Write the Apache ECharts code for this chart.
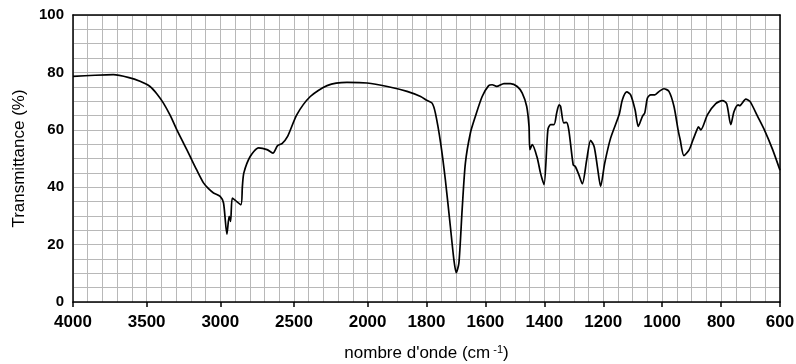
<!DOCTYPE html>
<html>
<head>
<meta charset="utf-8">
<script src="https://cdn.jsdelivr.net/npm/echarts@6/dist/echarts.min.js"></script>
<style>
html,body{margin:0;padding:0;background:#fff;}
#chart{width:796px;height:364px;}
</style>
</head>
<body>
<div id="chart"></div>
<script>
// Wavenumbers (cm-1) and transmittance (%)
var wavenumbers = [4000, 3850, 3726, 3620, 3545, 3477, 3430, 3386, 3340, 3295, 3250, 3205, 3160, 3114, 3080, 3046, 3001, 2978, 2955, 2940, 2930, 2919, 2900, 2860, 2850, 2840, 2797, 2740, 2683, 2643, 2611, 2581, 2543, 2480, 2389, 2275, 2140, 2003, 1933, 1866, 1820, 1798, 1781, 1770, 1752, 1736, 1719, 1707, 1699, 1690, 1679, 1668, 1651, 1634, 1611, 1589, 1577, 1562, 1537, 1515, 1492, 1475, 1460, 1452, 1449, 1441, 1424, 1413, 1401, 1388, 1379, 1367, 1358, 1350, 1345, 1334, 1325, 1317, 1302, 1295, 1283, 1271, 1256, 1243, 1231, 1220, 1209, 1195, 1175, 1146, 1135, 1120, 1107, 1092, 1081, 1067, 1059, 1050, 1039, 1025, 1010, 994, 977, 960, 946, 939, 926, 908, 895, 882, 877, 869, 846, 818, 795, 781, 767, 756, 742, 737, 716, 702, 676, 653, 625, 600];
var transmittance = [78.6, 79.0, 79.2, 78.2, 76.9, 75.1, 72.5, 69.3, 65.0, 60.0, 55.4, 50.7, 46.0, 41.5, 39.5, 38.0, 36.8, 34.5, 23.6, 29.8, 28.1, 36.2, 35.5, 33.9, 40.3, 45.0, 50.7, 53.7, 53.1, 51.9, 54.5, 55.2, 57.7, 65.3, 71.6, 75.4, 76.5, 76.3, 75.1, 73.4, 71.6, 70.2, 69.3, 65.9, 55.4, 42.6, 26.3, 14.7, 10.2, 13.6, 32.2, 48.4, 58.9, 64.7, 71.6, 75.4, 75.7, 75.1, 76.1, 76.1, 75.1, 72.8, 68.2, 61.2, 53.1, 54.8, 50.2, 44.9, 40.9, 60.0, 61.8, 61.8, 65.9, 68.7, 68.2, 62.4, 62.6, 60.0, 47.8, 47.2, 44.4, 41.2, 49.6, 56.3, 54.2, 47.2, 40.3, 48.4, 57.1, 65.3, 70.5, 73.2, 72.2, 67.0, 61.2, 64.7, 65.9, 71.1, 72.2, 72.2, 73.4, 74.3, 73.4, 68.2, 60.0, 56.6, 51.0, 53.1, 56.6, 60.0, 61.0, 60.0, 65.3, 69.1, 70.2, 69.1, 61.8, 66.4, 68.7, 68.4, 70.7, 69.9, 64.7, 60.0, 53.1, 45.9];
var xTickLabels = [4000, 3500, 3000, 2500, 2000, 1800, 1600, 1400, 1200, 1000, 800, 600];
var yTickLabels = [0, 20, 40, 60, 80, 100];

// Chart paper: 100 cm-1 per grid cell above 2000, 50 cm-1 per cell below
function toPos(wn) { return wn >= 2000 ? (4000 - wn) / 100 : 20 + (2000 - wn) / 50; }
function toWn(p) { return p <= 20 ? 4000 - p * 100 : 2000 - (p - 20) * 50; }

var seriesData = wavenumbers.map(function (w, i) { return [toPos(w), transmittance[i]]; });
var font = 'Liberation Sans, Arial, Helvetica, sans-serif';
var gridLine = {show: true, lineStyle: {color: '#b8b8b8', width: 1}};

var chart = echarts.init(document.getElementById('chart'), null, {renderer: 'canvas'});
chart.setOption({
  animation: false,
  backgroundColor: '#fff',
  grid: {left: 73, right: 16, top: 15, bottom: 62, containLabel: false, outerBoundsMode: 'none'},
  xAxis: [{
    type: 'value', min: 0, max: 48, interval: 1,
    name: "{a|nombre d'onde (cm}{s|-1}{a|)}",
    nameLocation: 'middle', nameGap: 42,
    nameTextStyle: {rich: {
      a: {fontFamily: font, fontSize: 17, color: '#000'},
      s: {fontFamily: font, fontSize: 11, color: '#000', verticalAlign: 'top', padding: [0, 0, 8, 3]}
    }},
    axisLine: {show: true, onZero: false, lineStyle: {color: '#000', width: 1.5}},
    axisTick: {show: true, length: 5, inside: false, lineStyle: {color: '#000', width: 1.5},
      customValues: xTickLabels.map(toPos)},
    axisLabel: {show: true, margin: 12, fontFamily: font, fontSize: 17, fontWeight: 'bold', color: '#000',
      customValues: xTickLabels.map(toPos),
      formatter: function (v) { return String(Math.round(toWn(v))); }},
    splitLine: {show: false},
    z: 3
  }, {
    type: 'value', min: 0, max: 48, interval: 1, position: 'top',
    axisLine: {show: true, onZero: false, lineStyle: {color: '#000', width: 1.5}},
    axisTick: {show: false}, axisLabel: {show: false}, splitLine: gridLine,
    z: 1
  }],
  yAxis: [{
    type: 'value', min: 0, max: 100, interval: 5,
    name: 'Transmittance (%)', nameLocation: 'middle', nameGap: 43,
    nameTextStyle: {fontFamily: font, fontSize: 17, color: '#000'},
    axisLine: {show: true, onZero: false, lineStyle: {color: '#000', width: 1.5}},
    axisTick: {show: false},
    axisLabel: {show: true, margin: 9, fontFamily: font, fontSize: 15, fontWeight: 'bold', color: '#000',
      customValues: yTickLabels},
    splitLine: {show: false},
    z: 3
  }, {
    type: 'value', min: 0, max: 100, interval: 5, position: 'right',
    axisLine: {show: true, onZero: false, lineStyle: {color: '#000', width: 1.5}},
    axisTick: {show: false}, axisLabel: {show: false}, splitLine: gridLine,
    z: 1
  }],
  series: [{
    type: 'line',
    data: seriesData,
    xAxisIndex: 0, yAxisIndex: 0,
    showSymbol: false,
    smooth: 0.25,
    lineStyle: {color: '#000', width: 1.7},
    z: 5
  }]
});
</script>
</body>
</html>
